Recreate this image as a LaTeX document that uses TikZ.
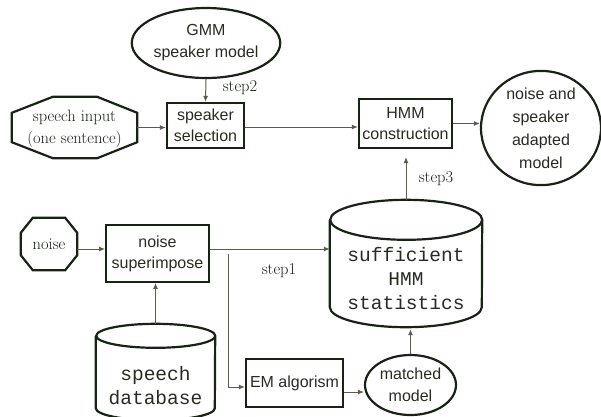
\documentclass[tikz,border=0pt]{standalone}
\usepackage{fontspec}
\setsansfont{Liberation Sans}
\setmonofont{Liberation Mono}
\usetikzlibrary{shapes.geometric,arrows.meta,positioning}

\definecolor{edgecol}{RGB}{22,36,20}
\definecolor{txtcol}{RGB}{40,44,30}
\definecolor{linkcol}{RGB}{90,92,76}

\tikzset{
  outline/.style={draw=edgecol, line width=2.2pt},
  block/.style={outline, rectangle, inner sep=0pt, align=center, text=txtcol,
                font=\sffamily\fontsize{16}{21}\selectfont},
  oval/.style={outline, ellipse, inner sep=0pt, align=center, text=txtcol,
               font=\sffamily\fontsize{16}{22}\selectfont},
  frame/.style={rectangle, inner sep=0pt},
  serif/.style={text=edgecol, align=center, font=\rmfamily\fontsize{16.5}{22}\selectfont},
  mono/.style={text=txtcol, align=center, font=\ttfamily\fontsize{19.5}{24}\selectfont},
  flow/.style={draw=linkcol, line width=1pt, -{Latex[length=6pt,width=5pt]}},
}

\begin{document}
\begin{tikzpicture}[x=1pt,y=-1pt]
  \useasboundingbox (0,0) rectangle (601,416);

  % top row: speaker side
  \node[oval, minimum width=122pt, minimum height=70pt] (gmm) at (206,43) {GMM\\speaker model};
  \node[block, minimum width=77pt, minimum height=45pt] (sel) at (205.5,125.5) {speaker\\selection};
  \node[frame, minimum width=125pt, minimum height=61pt] (speech) at (74.5,127.5) {};
  \draw[outline] ([xshift=41pt]speech.north west) -- ([xshift=-40pt]speech.north east)
    -- ([yshift=-16pt]speech.north east) -- ([yshift=16pt]speech.south east)
    -- ([xshift=-40pt]speech.south east) -- ([xshift=41pt]speech.south west)
    -- ([yshift=16pt]speech.south west) -- ([yshift=-16pt]speech.north west) -- cycle;
  \node[serif] at ([yshift=-1.5pt]speech.center) {speech input\\(one sentence)};
  \node[block, minimum width=93pt, minimum height=49pt] (hmm) at (405.5,123.5) {HMM\\construction};
  \node[oval, minimum width=120pt, minimum height=104pt,
        font=\sffamily\fontsize{16}{23}\selectfont] (adapted) at (541,128)
        {noise and\\speaker\\adapted\\model};

  % bottom part: noise side
  \node[frame, minimum width=56pt, minimum height=52pt] (noise) at (49,244) {};
  \draw[outline] ([xshift=12pt]noise.north west) -- ([xshift=-12pt]noise.north east)
    -- ([yshift=-15pt]noise.north east) -- ([yshift=15pt]noise.south east)
    -- ([xshift=-12pt]noise.south east) -- ([xshift=12pt]noise.south west)
    -- ([yshift=15pt]noise.south west) -- ([yshift=-15pt]noise.north west) -- cycle;
  \node[serif] at (noise.center) {noise};
  \node[block, line width=1.8pt, minimum width=103pt, minimum height=57pt] (sup) at (157.5,253.5) {noise\\superimpose};

  % cylinders
  \node[frame, minimum width=152pt, minimum height=127pt] (stats) at (406,263.5) {};
  \draw[outline] ([yshift=-20pt]stats.north west) -- ([yshift=20pt]stats.south west)
    arc[start angle=180, end angle=360, x radius=76pt, y radius=20pt]
    -- ([yshift=-20pt]stats.north east)
    arc[start angle=0, end angle=360, x radius=76pt, y radius=20pt];
  \node[mono] at (406,279) {sufficient\\HMM\\statistics};

  \node[frame, minimum width=119pt, minimum height=96pt] (db) at (155.5,372) {};
  \draw[outline] ([yshift=-12pt]db.north west) -- ([yshift=12pt]db.south west)
    arc[start angle=180, end angle=360, x radius=59.5pt, y radius=12pt]
    -- ([yshift=-12pt]db.north east)
    arc[start angle=0, end angle=360, x radius=59.5pt, y radius=12pt];
  \node[mono] at (155.5,386) {speech\\database};

  \node[block, minimum width=97pt, minimum height=48pt] (em) at (294.5,383) {EM algorism};
  \node[oval, minimum width=91pt, minimum height=60pt] (matched) at (410.5,385) {matched\\model};

  % connectors
  \draw[flow] (gmm.south) -- (sel.north);
  \node[serif] at (240,88) {step2};
  \draw[flow] (speech.east) -- (speech.east -| sel.west);
  \draw[flow] ([yshift=-1.5pt]sel.east) -- ([yshift=-1.5pt]sel.east -| hmm.west);
  \draw[flow] (hmm.east) -- (hmm.east -| adapted.west);
  \draw[flow, shorten >=8pt] (stats.north) -- (stats.north |- hmm.south);
  \node[serif] at (436,179) {step3};

  \draw[flow] ([yshift=-5pt]noise.east) -- ([yshift=-5pt]noise.east -| sup.west);
  \draw[flow] ([yshift=4.5pt]sup.east) -- ([yshift=4.5pt]sup.east -| stats.west);
  \coordinate (split) at (228,254);
  \draw[flow] (split) |- ([yshift=-4pt]em.west);
  \node[serif] at (279,271) {step1};
  \draw[flow] (db.north) -- (db.north |- sup.south);
  \draw[flow] ([yshift=-9pt]em.east) -- ([yshift=-9pt]em.east -| matched.west);
  \draw[flow, shorten >=2pt] (matched.north) -- (matched.north |- stats.south);
\end{tikzpicture}
\end{document}
